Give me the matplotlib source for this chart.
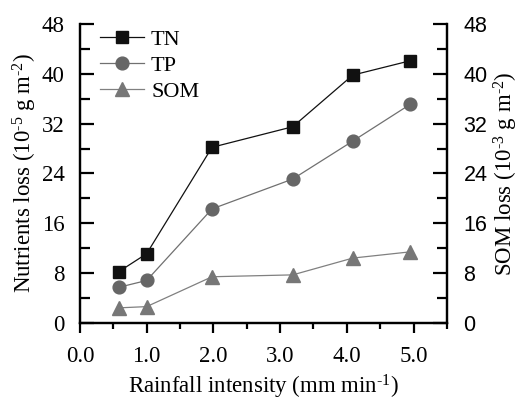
import matplotlib
matplotlib.use("Agg")
import matplotlib.pyplot as plt
from matplotlib.ticker import MultipleLocator

plt.rcParams["mathtext.fontset"] = "custom"
plt.rcParams["mathtext.rm"] = "Liberation Serif"
plt.rcParams["mathtext.it"] = "Liberation Serif:italic"
plt.rcParams["mathtext.default"] = "rm"

intensity = [0.58, 1.0, 1.98, 3.19, 4.09, 4.95]
tn = [8.2, 11.1, 28.2, 31.5, 39.8, 42.1]
tp = [5.7, 6.8, 18.3, 23.1, 29.2, 35.1]
som = [2.4, 2.6, 7.4, 7.7, 10.4, 11.4]
x_ticks = [0, 1, 2, 3, 4, 5]
y_ticks = [0, 8, 16, 24, 32, 40, 48]

serif = ["Liberation Serif", "DejaVu Serif"]
sans = ["Liberation Sans", "DejaVu Sans"]

fig = plt.figure(figsize=(5.19, 4.01), dpi=100)
ax = fig.add_axes([0.154, 0.195, 0.707, 0.745])
ax2 = ax.twinx()

l1, = ax.plot(intensity, tn, color="#111111", lw=0.9, marker="s", ms=8.5,
              mfc="#111111", mec="#111111", label="TN")
l2, = ax.plot(intensity, tp, color="#707070", lw=0.9, marker="o", ms=9.2,
              mfc="#666666", mec="#666666", label="TP")
l3, = ax2.plot(intensity, som, color="#808080", lw=0.9, marker="^", ms=10.5,
               mfc="#777777", mec="#777777", label="SOM")

ax.set_xlim(0, 5.5)
ax.set_ylim(0, 48)
ax2.set_ylim(0, 48)

for a in (ax, ax2):
    a.spines["top"].set_visible(False)
    for s in a.spines.values():
        s.set_linewidth(1.6)

fs = 16.5
ax.set_xticks(x_ticks)
ax.set_xticklabels([f"{v:.1f}" for v in x_ticks], family=serif, fontsize=fs)
ax.xaxis.set_minor_locator(MultipleLocator(0.5))
ax.set_yticks(y_ticks)
ax.set_yticklabels([str(v) for v in y_ticks], family=serif, fontsize=fs)
ax.yaxis.set_minor_locator(MultipleLocator(4))
ax2.set_yticks(y_ticks)
ax2.set_yticklabels([str(v) for v in y_ticks], family=sans, fontsize=15.5)
ax2.yaxis.set_minor_locator(MultipleLocator(4))

ax.tick_params(axis="x", which="major", direction="out", length=7, width=1.6, pad=10)
ax.tick_params(axis="x", which="minor", direction="out", length=4, width=1.6)
ax.tick_params(axis="y", which="major", direction="in", length=10, width=1.6, pad=11)
ax.tick_params(axis="y", which="minor", direction="in", length=7, width=1.6)
ax2.tick_params(axis="y", which="major", direction="in", length=10, width=1.6, pad=12)
ax2.tick_params(axis="y", which="minor", direction="in", length=7, width=1.6)


def sup(s):
    return "$^{\\text{" + s + "}}$"


ax.set_xlabel("Rainfall intensity (mm min" + sup("-1") + ")", family=serif,
              fontsize=fs, labelpad=4)
ax.set_ylabel("Nutrients loss (10" + sup("-5") + " g m" + sup("-2") + ")",
              family=serif, fontsize=fs, labelpad=2)
ax2.set_ylabel("SOM loss (10" + sup("-3") + " g m" + sup("-2") + ")",
               family=serif, fontsize=fs, labelpad=3)

leg = ax.legend(handles=[l1, l2, l3], loc="upper left", frameon=False,
                prop={"family": serif, "size": 16}, bbox_to_anchor=(0.0, 1.05),
                handlelength=2.0, labelspacing=0.25, handletextpad=0.3)

fig.savefig("out.png", dpi=100)
